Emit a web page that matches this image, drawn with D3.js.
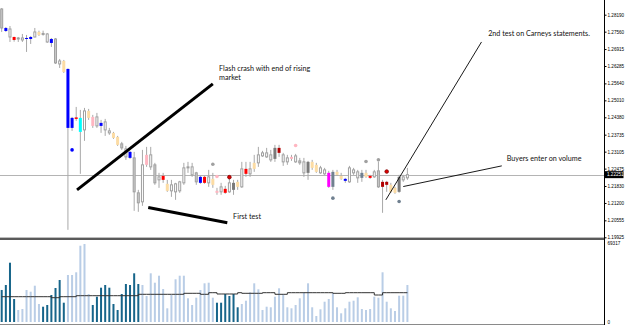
<!DOCTYPE html>
<html><head><meta charset="utf-8">
<script src="https://cdn.jsdelivr.net/npm/d3@7"></script>
<style>html,body{margin:0;padding:0;background:#fff;overflow:hidden}svg{display:block}</style>
</head><body><svg id="c" width="625" height="325"></svg>
<script>
// ---- data ----
const openP  = [1.28402,1.27697,1.27363,1.27363,1.27326,1.27252,1.27326,1.27363,1.27363,1.27549,1.27493,1.27178,1.27289,1.27289,1.26362,1.26473,1.26176,1.24358,1.24377,1.24358,1.23913,1.24618,1.24395,1.24061,1.24173,1.23913,1.23802,1.23802,1.23653,1.23394,1.22911,1.23097,1.22874,1.21576,1.21242,1.22986,1.22540,1.22615,1.22058,1.22206,1.21910,1.21650,1.21613,1.21650,1.21947,1.22540,1.22244,1.22318,1.22169,1.22169,1.21947,1.22095,1.21650,1.21613,1.21724,1.21613,1.21947,1.21984,1.21798,1.22466,1.22281,1.22689,1.22689,1.22948,1.22911,1.22800,1.23245,1.23245,1.22726,1.22726,1.22911,1.22726,1.22763,1.22318,1.22726,1.22726,1.22615,1.22318,1.22281,1.22318,1.22355,1.22355,1.22206,1.22095,1.21984,1.22318,1.22132,1.22318,1.22318,1.22206,1.22169,1.22392,1.21984,1.21984,1.21873,1.21761,1.22169,1.22058,1.22132];
const highP  = [1.28439,1.27734,1.27771,1.27374,1.27363,1.27475,1.27438,1.27400,1.27697,1.27597,1.27597,1.27512,1.27326,1.27326,1.26547,1.26510,1.26195,1.24395,1.24766,1.24655,1.24729,1.24692,1.24470,1.24544,1.24284,1.24321,1.23987,1.23839,1.23690,1.23468,1.23319,1.23134,1.23097,1.21687,1.23171,1.23282,1.23282,1.22689,1.22318,1.22318,1.22058,1.22058,1.21947,1.22021,1.22689,1.22726,1.22689,1.22355,1.22206,1.22206,1.22429,1.22318,1.21761,1.21947,1.21835,1.22169,1.22058,1.22058,1.22726,1.22726,1.22726,1.22986,1.23282,1.23134,1.23245,1.23171,1.23357,1.23357,1.23060,1.22986,1.22986,1.23023,1.22874,1.22874,1.22763,1.22800,1.22689,1.22577,1.22503,1.22392,1.22429,1.22429,1.22318,1.22132,1.22577,1.22503,1.22429,1.22429,1.22429,1.22244,1.22429,1.22726,1.22058,1.22021,1.21947,1.21798,1.22244,1.22244,1.22503];
const lowP   = [1.27549,1.27549,1.27178,1.27189,1.27178,1.27178,1.26807,1.27104,1.27345,1.27400,1.27412,1.27141,1.26992,1.26362,1.26213,1.26028,1.20203,1.23876,1.24247,1.22281,1.23505,1.24284,1.23987,1.23987,1.23802,1.23690,1.23728,1.23579,1.23319,1.23171,1.22800,1.22837,1.20908,1.20871,1.21093,1.22540,1.22429,1.21873,1.21761,1.21947,1.21613,1.21427,1.21316,1.21576,1.21873,1.22318,1.22169,1.21873,1.21910,1.21910,1.21798,1.21761,1.21502,1.21502,1.21539,1.21576,1.21502,1.21687,1.21761,1.22169,1.22169,1.22355,1.22540,1.22911,1.22874,1.22726,1.22726,1.22911,1.22577,1.22615,1.22763,1.22689,1.22615,1.22169,1.22058,1.22429,1.22318,1.22281,1.22244,1.21761,1.21687,1.22206,1.22058,1.21947,1.21947,1.22244,1.21947,1.21984,1.22132,1.22095,1.22132,1.21761,1.20834,1.21613,1.21576,1.21539,1.21576,1.21984,1.22058];
const closeP = [1.27697,1.27586,1.27660,1.27252,1.27289,1.27326,1.27289,1.27289,1.27549,1.27438,1.27456,1.27475,1.27141,1.26399,1.26473,1.26065,1.23987,1.23987,1.24321,1.23839,1.24618,1.24358,1.24061,1.24395,1.24061,1.24210,1.23876,1.23616,1.23357,1.23245,1.23208,1.22874,1.21613,1.21205,1.22615,1.22615,1.22986,1.21947,1.22169,1.22058,1.21650,1.21873,1.21910,1.21984,1.22503,1.22503,1.22540,1.21984,1.21947,1.21947,1.22169,1.21873,1.21576,1.21798,1.21576,1.21947,1.21687,1.21798,1.22466,1.22281,1.22466,1.22466,1.22986,1.23060,1.23060,1.22986,1.22837,1.23060,1.22986,1.22874,1.22837,1.22948,1.22689,1.22726,1.22318,1.22503,1.22355,1.22503,1.22429,1.21798,1.21798,1.22244,1.22095,1.22021,1.22503,1.22429,1.22355,1.22132,1.22169,1.22132,1.22355,1.21798,1.21798,1.21873,1.21613,1.21576,1.21613,1.22169,1.22251];
// bar colouring class given by the indicator
const barType = ["dn","blue","up","red","dn","up","blue","blue","up","peach","dn","up","blue","dn","up","peach","blue","blue","red","cyan","up","peach","pink","up","blue","up","up","peach","peach","dn","up","blue","dn","dn","up","pink","up","dn","up","red","peach","up","up","up","up","dn","up","dn","blue","red","up","peach","pink","up","red","up","dkgray","peach","up","red","up","peach","up","up","up","up","dkgray","dkred","up","up","pink","up","dn","up","dkgray","peach","peach","up","up","magenta","slate","peach","peach","blue","up","up","up","slate","peach","red","up","dn","dkred","dkred","peach","peach","dkgray","up","up"];
const volume = [28100,32460,52030,20180,10530,11400,28080,26590,31850,15790,13420,14920,23690,29830,36850,16930,41240,41240,43610,66950,68440,24570,14920,22200,30100,32460,30100,15790,10530,24570,33340,32460,42730,33340,32460,22810,42730,34480,40620,28950,12020,23690,37470,40620,40620,20790,14920,21320,28080,33950,34480,21320,16930,16930,24570,22810,24570,12900,15790,18690,26060,33950,28690,10530,13420,12900,22200,29570,24300,12900,12020,14920,20790,26060,33950,12900,5260,11140,17810,20180,25180,12900,7630,12020,17810,18690,21670,11400,10530,11400,22200,21320,43610,17810,12020,9650,23080,23080,32460];
const volType = ["d","d","d","d","l","l","l","l","l","l","d","d","d","d","d","d","l","l","l","l","l","l","d","d","d","d","d","d","d","d","d","d","d","d","l","l","l","l","l","l","l","l","l","l","l","l","l","l","l","l","l","l","d","d","d","d","d","d","l","l","l","l","l","l","l","l","l","l","l","l","l","l","l","l","l","l","l","l","l","l","l","l","l","l","l","l","l","l","l","l","l","l","l","l","l","l","l","l","l"];
const volMA = [22200,22200,22200,22200,22200,22200,22200,22200,22200,22200,22200,22200,21320,21320,22200,22200,22200,22200,23080,23080,23080,23080,23080,23080,23080,23080,23080,23080,23080,23080,23080,23080,23080,24300,24300,24300,24300,24300,24300,24300,24300,24300,24300,24300,25180,25180,25180,25180,24300,24300,25710,25710,24570,24570,24570,24570,24570,25710,25180,25180,25180,25180,25180,25710,25710,25710,24300,24300,24300,25710,25710,25710,25710,25710,25710,25710,25710,25710,25710,25710,25180,25180,25180,25710,25710,25710,25710,25710,25710,25710,23690,23690,25710,25710,25710,25710,25710,25710,25710];
const sigIndex = [17,51,52,55,71,80,88,91,93,96];
const sigPrice = [1.23171,1.22640,1.22180,1.22158,1.23331,1.21379,1.22737,1.22800,1.22366,1.21253];
const sigType  = ["blue","gray","pink","dkred","pink","slate","gray","gray","dkred","slate"];
const priceTicks = [1.28190,1.27560,1.26915,1.26285,1.25640,1.25010,1.24380,1.23735,1.23105,1.22475,1.21830,1.21200,1.20555,1.19925];
const lastPrice = 1.22251;
const volMax = 69317;
// annotations in (bar index, price)
const annoLines = [
  {x1:18.2,p1:1.21687,x2:51.0,p2:1.25620,w:3},
  {x1:35.4,p1:1.21030,x2:54.5,p2:1.20463,w:3},
  {x1:92.8,p1:1.21316,x2:115.9,p2:1.27178,w:0.9},
  {x1:97.0,p1:1.21810,x2:120.8,p2:1.22577,w:0.9}
];
const annoText = [
  {i:52.5,p:1.26202,t:"Flash crash with end of rising"},
  {i:52.5,p:1.25842,t:"market"},
  {i:55.9,p:1.20685,t:"First test"},
  {i:117.5,p:1.27501,t:"2nd test on Carneys statements."},
  {i:122.0,p:1.22848,t:"Buyers enter on volume"}
];

// ---- drawing ----
const colors = {up:"#ffffff",dn:"#c8c8c8",blue:"#0000ff",red:"#ff0000",cyan:"#00ffff",pink:"#ffb6c1",peach:"#fcdca4",magenta:"#ff00ff",slate:"#708090",dkgray:"#7a7a7a",dkred:"#b00000",gray:"#a0a0a0"};
const svg = d3.select("#c");
const axisX = 604.5;
const x = d3.scaleLinear().domain([0,98]).range([1.7,407.4]);
const y = d3.scaleLinear().domain([1.19925,1.28190]).range([237.3,14.7]);
const yv = d3.scaleLinear().domain([0,volMax]).range([322,243]);
const n = openP.length;
const bars = d3.range(n).map(i=>({i,o:openP[i],h:highP[i],l:lowP[i],c:closeP[i],t:barType[i]}));

// current price line
svg.append("line").attr("x1",0).attr("x2",axisX).attr("y1",Math.round(y(lastPrice))+0.5).attr("y2",Math.round(y(lastPrice))+0.5)
  .attr("stroke","#b4b4b4").attr("stroke-width",1);

// wicks
svg.append("g").selectAll("line").data(bars).join("line")
  .attr("x1",d=>x(d.i)).attr("x2",d=>x(d.i)).attr("y1",d=>y(d.h)).attr("y2",d=>y(d.l))
  .attr("stroke","#a8a8a8").attr("stroke-width",1);
// bodies
svg.append("g").selectAll("rect").data(bars).join("rect")
  .attr("x",d=>(d.t==="up"||d.t==="dn")?x(d.i)-1:x(d.i)-1.5)
  .attr("width",d=>(d.t==="up"||d.t==="dn")?2:3)
  .attr("y",d=>y(Math.max(d.o,d.c)))
  .attr("height",d=>Math.max(1,y(Math.min(d.o,d.c))-y(Math.max(d.o,d.c))))
  .attr("fill",d=>colors[d.t])
  .attr("stroke",d=>(d.t==="up"||d.t==="dn")?"#a0a0a0":"none").attr("stroke-width",1);

// signal dots
svg.append("g").selectAll("circle").data(sigIndex.map((s,k)=>({i:s,p:sigPrice[k],t:sigType[k]}))).join("circle")
  .attr("cx",d=>x(d.i)).attr("cy",d=>y(d.p)).attr("r",1.8)
  .attr("fill",d=>d.t==="dkred"?"#e00000":colors[d.t])
  .attr("stroke",d=>d.t==="dkred"?"#800000":"none").attr("stroke-width",0.8);

// annotation lines
svg.append("g").selectAll("line").data(annoLines).join("line")
  .attr("x1",d=>x(d.x1)).attr("y1",d=>y(d.p1)).attr("x2",d=>x(d.x2)).attr("y2",d=>y(d.p2))
  .attr("stroke","#000").attr("stroke-width",d=>d.w).attr("stroke-linecap","butt");
svg.append("g").selectAll("text").data(annoText).join("text")
  .attr("x",d=>x(d.i)).attr("y",d=>y(d.p)).attr("dy","0.35em")
  .attr("font-family","Lato, 'Open Sans', sans-serif").attr("font-size",7.2).attr("fill","#111")
  .text(d=>d.t);

// panel separator & bottom
svg.append("rect").attr("x",0).attr("y",237.6).attr("width",axisX).attr("height",2.4).attr("fill","#5a5a5a");
svg.append("line").attr("x1",0).attr("x2",axisX).attr("y1",324.5).attr("y2",324.5).attr("stroke","#8a8a8a");

// volume bars
svg.append("g").selectAll("rect").data(volume.map((v,i)=>({i,v,t:volType[i]}))).join("rect")
  .attr("x",d=>x(d.i)-1).attr("width",2)
  .attr("y",d=>yv(d.v)).attr("height",d=>yv(0)-yv(d.v))
  .attr("fill",d=>d.t==="d"?"#17658a":"#b9cde6");
// volume average
svg.append("path").datum(volMA.map((v,i)=>[i,v]))
  .attr("d",d3.line().x(d=>x(d[0])).y(d=>yv(d[1])).curve(d3.curveStepAfter))
  .attr("fill","none").attr("stroke","#333").attr("stroke-width",1);

// right axis
const ax = svg.append("g").attr("transform",`translate(${axisX},0)`);
ax.append("line").attr("y1",0).attr("y2",325).attr("stroke","#000");
const yAxis = d3.axisRight(y).tickValues(priceTicks).tickSize(2).tickFormat(d3.format(".5f"));
const ga = svg.append("g").attr("transform",`translate(${axisX},0)`).call(yAxis);
ga.select(".domain").remove();
ga.selectAll("text").attr("font-family","'Liberation Sans', Arial, sans-serif").attr("font-size",4.6).attr("x",3);
const vAxis = d3.axisRight(yv).tickValues([0,volMax]).tickSize(0).tickFormat(d3.format("d"));
const gv = svg.append("g").attr("transform",`translate(${axisX},0)`).call(vAxis);
gv.select(".domain").remove();
gv.selectAll("text").attr("font-family","'Liberation Sans', Arial, sans-serif").attr("font-size",4.6).attr("x",3);
// last price tag
const lp = svg.append("g").attr("transform",`translate(${axisX},${y(lastPrice)})`);
lp.append("rect").attr("x",0).attr("y",-3.5).attr("width",19).attr("height",7).attr("fill","#000");
lp.append("text").attr("x",2.5).attr("dy","0.35em").attr("font-family","'Liberation Sans', Arial, sans-serif").attr("font-size",4.6).attr("fill","#fff").text(d3.format(".5f")(lastPrice));
</script></body></html>
